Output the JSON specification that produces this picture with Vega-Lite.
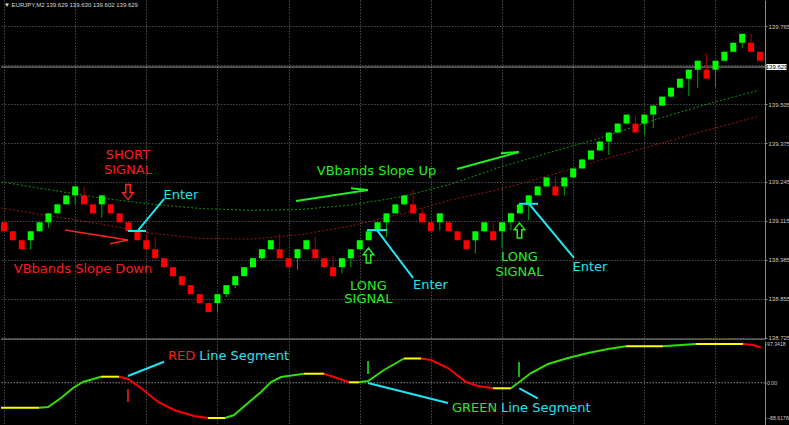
{
  "$schema": "https://vega.github.io/schema/vega-lite/v6.json",
  "background": "#000000",
  "padding": 0,
  "spacing": 2,
  "bounds": "flush",
  "config": {
    "view": {"stroke": null},
    "scale": {"continuousPadding": 0},
    "axis": {"labelFont": "Liberation Sans", "labelFontSize": 6, "labelColor": "#c8c8c8", "title": null, "domainColor": "#8c8c8c", "tickColor": "#8c8c8c", "gridColor": "#4a4a4a", "gridDash": [1.5, 1.5], "labelFlush": false, "labelOverlap": false, "minExtent": 0}
  },
  "datasets": {
    "bricks": [
      {"i":1,"o":139.110,"c":139.080,"h":139.110,"l":139.080,"d":"d"},
      {"i":2,"o":139.080,"c":139.050,"h":139.080,"l":139.050,"d":"d"},
      {"i":3,"o":139.050,"c":139.020,"h":139.050,"l":139.020,"d":"d"},
      {"i":4,"o":139.050,"c":139.080,"h":139.080,"l":139.020,"d":"u"},
      {"i":5,"o":139.080,"c":139.110,"h":139.110,"l":139.080,"d":"u"},
      {"i":6,"o":139.110,"c":139.140,"h":139.140,"l":139.092,"d":"u"},
      {"i":7,"o":139.140,"c":139.170,"h":139.170,"l":139.140,"d":"u"},
      {"i":8,"o":139.170,"c":139.200,"h":139.200,"l":139.170,"d":"u"},
      {"i":9,"o":139.200,"c":139.230,"h":139.230,"l":139.170,"d":"u"},
      {"i":10,"o":139.200,"c":139.170,"h":139.230,"l":139.170,"d":"d"},
      {"i":11,"o":139.170,"c":139.140,"h":139.170,"l":139.140,"d":"d"},
      {"i":12,"o":139.170,"c":139.200,"h":139.200,"l":139.125,"d":"u"},
      {"i":13,"o":139.170,"c":139.140,"h":139.170,"l":139.140,"d":"d"},
      {"i":14,"o":139.140,"c":139.110,"h":139.140,"l":139.110,"d":"d"},
      {"i":15,"o":139.110,"c":139.080,"h":139.110,"l":139.080,"d":"d"},
      {"i":16,"o":139.080,"c":139.050,"h":139.080,"l":139.050,"d":"d"},
      {"i":17,"o":139.050,"c":139.020,"h":139.070,"l":139.020,"d":"d"},
      {"i":18,"o":139.020,"c":138.990,"h":139.060,"l":138.990,"d":"d"},
      {"i":19,"o":138.990,"c":138.960,"h":138.990,"l":138.960,"d":"d"},
      {"i":20,"o":138.960,"c":138.930,"h":138.960,"l":138.930,"d":"d"},
      {"i":21,"o":138.930,"c":138.900,"h":138.930,"l":138.900,"d":"d"},
      {"i":22,"o":138.900,"c":138.870,"h":138.900,"l":138.870,"d":"d"},
      {"i":23,"o":138.870,"c":138.840,"h":138.870,"l":138.840,"d":"d"},
      {"i":24,"o":138.840,"c":138.810,"h":138.840,"l":138.810,"d":"d"},
      {"i":25,"o":138.840,"c":138.870,"h":138.870,"l":138.810,"d":"u"},
      {"i":26,"o":138.870,"c":138.900,"h":138.900,"l":138.860,"d":"u"},
      {"i":27,"o":138.900,"c":138.930,"h":138.930,"l":138.890,"d":"u"},
      {"i":28,"o":138.930,"c":138.960,"h":138.960,"l":138.930,"d":"u"},
      {"i":29,"o":138.960,"c":138.990,"h":138.990,"l":138.960,"d":"u"},
      {"i":30,"o":138.990,"c":139.020,"h":139.020,"l":138.983,"d":"u"},
      {"i":31,"o":139.020,"c":139.050,"h":139.050,"l":139.020,"d":"u"},
      {"i":32,"o":139.020,"c":138.990,"h":139.070,"l":138.990,"d":"d"},
      {"i":33,"o":138.990,"c":138.960,"h":138.990,"l":138.960,"d":"d"},
      {"i":34,"o":138.990,"c":139.020,"h":139.020,"l":138.951,"d":"u"},
      {"i":35,"o":139.020,"c":139.050,"h":139.050,"l":139.020,"d":"u"},
      {"i":36,"o":139.020,"c":138.990,"h":139.061,"l":138.990,"d":"d"},
      {"i":37,"o":138.990,"c":138.960,"h":138.990,"l":138.960,"d":"d"},
      {"i":38,"o":138.960,"c":138.930,"h":138.998,"l":138.930,"d":"d"},
      {"i":39,"o":138.960,"c":138.990,"h":138.990,"l":138.939,"d":"u"},
      {"i":40,"o":138.990,"c":139.020,"h":139.020,"l":138.960,"d":"u"},
      {"i":41,"o":139.020,"c":139.050,"h":139.050,"l":139.020,"d":"u"},
      {"i":42,"o":139.050,"c":139.080,"h":139.080,"l":139.050,"d":"u"},
      {"i":43,"o":139.080,"c":139.110,"h":139.110,"l":139.080,"d":"u"},
      {"i":44,"o":139.110,"c":139.140,"h":139.140,"l":139.061,"d":"u"},
      {"i":45,"o":139.140,"c":139.170,"h":139.170,"l":139.140,"d":"u"},
      {"i":46,"o":139.170,"c":139.200,"h":139.200,"l":139.170,"d":"u"},
      {"i":47,"o":139.170,"c":139.140,"h":139.217,"l":139.140,"d":"d"},
      {"i":48,"o":139.140,"c":139.110,"h":139.156,"l":139.110,"d":"d"},
      {"i":49,"o":139.110,"c":139.080,"h":139.110,"l":139.080,"d":"d"},
      {"i":50,"o":139.110,"c":139.140,"h":139.140,"l":139.083,"d":"u"},
      {"i":51,"o":139.110,"c":139.080,"h":139.110,"l":139.080,"d":"d"},
      {"i":52,"o":139.080,"c":139.050,"h":139.080,"l":139.050,"d":"d"},
      {"i":53,"o":139.050,"c":139.020,"h":139.050,"l":139.020,"d":"d"},
      {"i":54,"o":139.050,"c":139.080,"h":139.080,"l":139.005,"d":"u"},
      {"i":55,"o":139.080,"c":139.110,"h":139.110,"l":139.080,"d":"u"},
      {"i":56,"o":139.080,"c":139.050,"h":139.110,"l":139.050,"d":"d"},
      {"i":57,"o":139.080,"c":139.110,"h":139.110,"l":139.022,"d":"u"},
      {"i":58,"o":139.110,"c":139.140,"h":139.140,"l":139.083,"d":"u"},
      {"i":59,"o":139.140,"c":139.170,"h":139.170,"l":139.140,"d":"u"},
      {"i":60,"o":139.170,"c":139.200,"h":139.200,"l":139.117,"d":"u"},
      {"i":61,"o":139.200,"c":139.230,"h":139.230,"l":139.200,"d":"u"},
      {"i":62,"o":139.230,"c":139.260,"h":139.260,"l":139.230,"d":"u"},
      {"i":63,"o":139.230,"c":139.200,"h":139.260,"l":139.200,"d":"d"},
      {"i":64,"o":139.230,"c":139.260,"h":139.260,"l":139.200,"d":"u"},
      {"i":65,"o":139.260,"c":139.290,"h":139.290,"l":139.260,"d":"u"},
      {"i":66,"o":139.290,"c":139.320,"h":139.320,"l":139.290,"d":"u"},
      {"i":67,"o":139.320,"c":139.350,"h":139.350,"l":139.320,"d":"u"},
      {"i":68,"o":139.350,"c":139.380,"h":139.380,"l":139.350,"d":"u"},
      {"i":69,"o":139.380,"c":139.410,"h":139.410,"l":139.335,"d":"u"},
      {"i":70,"o":139.410,"c":139.440,"h":139.440,"l":139.410,"d":"u"},
      {"i":71,"o":139.440,"c":139.470,"h":139.470,"l":139.440,"d":"u"},
      {"i":72,"o":139.440,"c":139.410,"h":139.464,"l":139.410,"d":"d"},
      {"i":73,"o":139.440,"c":139.470,"h":139.470,"l":139.403,"d":"u"},
      {"i":74,"o":139.470,"c":139.500,"h":139.500,"l":139.425,"d":"u"},
      {"i":75,"o":139.500,"c":139.530,"h":139.530,"l":139.500,"d":"u"},
      {"i":76,"o":139.530,"c":139.560,"h":139.560,"l":139.530,"d":"u"},
      {"i":77,"o":139.560,"c":139.590,"h":139.590,"l":139.560,"d":"u"},
      {"i":78,"o":139.590,"c":139.620,"h":139.620,"l":139.532,"d":"u"},
      {"i":79,"o":139.620,"c":139.650,"h":139.650,"l":139.559,"d":"u"},
      {"i":80,"o":139.620,"c":139.590,"h":139.676,"l":139.590,"d":"d"},
      {"i":81,"o":139.620,"c":139.650,"h":139.650,"l":139.562,"d":"u"},
      {"i":82,"o":139.650,"c":139.680,"h":139.680,"l":139.650,"d":"u"},
      {"i":83,"o":139.680,"c":139.710,"h":139.710,"l":139.680,"d":"u"},
      {"i":84,"o":139.710,"c":139.740,"h":139.740,"l":139.693,"d":"u"},
      {"i":85,"o":139.710,"c":139.680,"h":139.740,"l":139.680,"d":"d"},
      {"i":86,"o":139.680,"c":139.650,"h":139.680,"l":139.650,"d":"d"}
    ],
    "bands": [
      {"i":0.66,"p":139.245,"b":"g"},{"i":6.28,"p":139.218,"b":"g"},{"i":11.91,"p":139.191,"b":"g"},{"i":17.53,"p":139.171,"b":"g"},
      {"i":23.15,"p":139.156,"b":"g"},{"i":28.77,"p":139.150,"b":"g"},{"i":34.39,"p":139.153,"b":"g"},{"i":40.02,"p":139.168,"b":"g"},
      {"i":45.64,"p":139.195,"b":"g"},{"i":51.26,"p":139.238,"b":"g"},{"i":56.88,"p":139.295,"b":"g"},{"i":62.50,"p":139.345,"b":"g"},
      {"i":68.12,"p":139.392,"b":"g"},{"i":73.75,"p":139.449,"b":"g"},{"i":79.37,"p":139.499,"b":"g"},{"i":85.89,"p":139.552,"b":"g"},
      {"i":0.66,"p":139.158,"b":"r"},{"i":6.28,"p":139.131,"b":"r"},{"i":11.91,"p":139.104,"b":"r"},{"i":17.53,"p":139.074,"b":"r"},
      {"i":23.15,"p":139.056,"b":"r"},{"i":28.77,"p":139.054,"b":"r"},{"i":34.39,"p":139.069,"b":"r"},{"i":40.02,"p":139.098,"b":"r"},
      {"i":45.64,"p":139.138,"b":"r"},{"i":51.26,"p":139.185,"b":"r"},{"i":56.88,"p":139.221,"b":"r"},{"i":62.50,"p":139.268,"b":"r"},
      {"i":68.12,"p":139.318,"b":"r"},{"i":73.75,"p":139.365,"b":"r"},{"i":79.37,"p":139.412,"b":"r"},{"i":85.89,"p":139.465,"b":"r"}
    ],
    "segs": [
      {"i":14.94,"p":139.081,"i2":16.97,"p2":139.081,"k":"c"},
      {"i":16.03,"p":139.081,"i2":19.0,"p2":139.188,"k":"c"},
      {"i":41.81,"p":139.084,"i2":44.06,"p2":139.084,"k":"c"},
      {"i":42.94,"p":139.084,"i2":46.99,"p2":138.924,"k":"c"},
      {"i":58.91,"p":139.172,"i2":61.04,"p2":139.172,"k":"c"},
      {"i":60.03,"p":139.172,"i2":65.09,"p2":138.991,"k":"c"},
      {"i":7.86,"p":139.084,"i2":14.94,"p2":139.051,"k":"r"},
      {"i":12.92,"p":139.038,"i2":14.94,"p2":139.051,"k":"r"},
      {"i":33.83,"p":139.181,"i2":41.93,"p2":139.218,"k":"g"},
      {"i":40.02,"p":139.224,"i2":41.93,"p2":139.218,"k":"g"},
      {"i":51.93,"p":139.288,"i2":58.91,"p2":139.345,"k":"g"},
      {"i":56.88,"p":139.341,"i2":58.91,"p2":139.345,"k":"g"}
    ],
    "notes": [
      {"i":14.94,"p":139.335,"t":"SHORT","k":"r"},
      {"i":14.94,"p":139.285,"t":"SIGNAL","k":"r"},
      {"i":9.88,"p":138.953,"t":"VBbands Slope Down","k":"r"},
      {"i":20.90,"p":139.201,"t":"Enter","k":"c"},
      {"i":48.95,"p":138.901,"t":"Enter","k":"c"},
      {"i":66.89,"p":138.961,"t":"Enter","k":"c"},
      {"i":42.88,"p":139.280,"t":"VBbands Slope Up","k":"g"},
      {"i":41.97,"p":138.897,"t":"LONG","k":"g"},
      {"i":41.97,"p":138.854,"t":"SIGNAL","k":"g"},
      {"i":58.96,"p":138.994,"t":"LONG","k":"g"},
      {"i":58.96,"p":138.945,"t":"SIGNAL","k":"g"}
    ],
    "arrows": [
      {"i":14.94,"p":139.211,"k":"dn"},
      {"i":41.98,"p":138.999,"k":"up"},
      {"i":58.96,"p":139.083,"k":"up"}
    ],
    "ind": [
      {"i":0.66,"v":-62.74,"s":1,"st":"f"},{"i":4.94,"v":-62.74,"s":1,"st":"f"},
      {"i":4.94,"v":-62.74,"s":2,"st":"u"},{"i":5.95,"v":-60.98,"s":2,"st":"u"},{"i":7.41,"v":-38.36,"s":2,"st":"u"},{"i":8.76,"v":-13.23,"s":2,"st":"u"},{"i":9.88,"v":1.85,"s":2,"st":"u"},{"i":11.91,"v":15.16,"s":2,"st":"u"},
      {"i":11.91,"v":15.16,"s":3,"st":"f"},{"i":13.93,"v":15.16,"s":3,"st":"f"},
      {"i":13.93,"v":15.16,"s":4,"st":"d"},{"i":14.94,"v":9.39,"s":4,"st":"d"},{"i":16.40,"v":-13.23,"s":4,"st":"d"},{"i":18.32,"v":-48.41,"s":4,"st":"d"},{"i":20.11,"v":-68.52,"s":4,"st":"d"},{"i":22.36,"v":-83.6,"s":4,"st":"d"},{"i":23.94,"v":-88.62,"s":4,"st":"d"},
      {"i":23.94,"v":-88.62,"s":5,"st":"f"},{"i":25.85,"v":-88.62,"s":5,"st":"f"},
      {"i":25.85,"v":-88.62,"s":6,"st":"u"},{"i":26.86,"v":-81.08,"s":6,"st":"u"},{"i":28.43,"v":-50.93,"s":6,"st":"u"},{"i":29.90,"v":-23.28,"s":6,"st":"u"},{"i":31.02,"v":1.85,"s":6,"st":"u"},{"i":32.14,"v":14.41,"s":6,"st":"u"},{"i":34.73,"v":22.70,"s":6,"st":"u"},
      {"i":34.73,"v":22.70,"s":7,"st":"f"},{"i":36.98,"v":22.70,"s":7,"st":"f"},
      {"i":36.98,"v":22.70,"s":8,"st":"d"},{"i":38.10,"v":14.41,"s":8,"st":"d"},{"i":39.79,"v":1.1,"s":8,"st":"d"},
      {"i":39.79,"v":1.1,"s":9,"st":"f"},{"i":40.92,"v":1.1,"s":9,"st":"f"},
      {"i":40.92,"v":1.1,"s":10,"st":"u"},{"i":41.93,"v":4.36,"s":10,"st":"u"},{"i":43.72,"v":31.99,"s":10,"st":"u"},{"i":45.97,"v":60.90,"s":10,"st":"u"},
      {"i":45.97,"v":60.90,"s":11,"st":"f"},{"i":47.89,"v":60.90,"s":11,"st":"f"},
      {"i":47.89,"v":60.90,"s":12,"st":"d"},{"i":49.01,"v":57.13,"s":12,"st":"d"},{"i":50.92,"v":37.03,"s":12,"st":"d"},{"i":52.95,"v":1.85,"s":12,"st":"d"},{"i":54.29,"v":-8.21,"s":12,"st":"d"},{"i":55.98,"v":-13.99,"s":12,"st":"d"},
      {"i":55.98,"v":-13.99,"s":13,"st":"f"},{"i":58.00,"v":-13.99,"s":13,"st":"f"},
      {"i":58.00,"v":-13.99,"s":14,"st":"u"},{"i":58.79,"v":-0.65,"s":14,"st":"u"},{"i":60.25,"v":24.46,"s":14,"st":"u"},{"i":62.17,"v":47.08,"s":14,"st":"u"},{"i":64.41,"v":62.16,"s":14,"st":"u"},{"i":66.66,"v":74.73,"s":14,"st":"u"},{"i":68.91,"v":84.78,"s":14,"st":"u"},{"i":70.94,"v":91.56,"s":14,"st":"u"},
      {"i":70.94,"v":91.56,"s":15,"st":"f"},{"i":75.09,"v":91.56,"s":15,"st":"f"},
      {"i":75.09,"v":91.56,"s":16,"st":"u"},{"i":78.81,"v":97.34,"s":16,"st":"u"},
      {"i":78.81,"v":97.34,"s":17,"st":"f"},{"i":84.09,"v":97.34,"s":17,"st":"f"},
      {"i":84.09,"v":97.34,"s":18,"st":"d"},{"i":85.22,"v":94.83,"s":18,"st":"d"},{"i":86.11,"v":88.54,"s":18,"st":"d"}
    ],
    "isegs": [
      {"i":14.94,"v":16.92,"i2":18.99,"v2":52.86,"k":"c"},
      {"i":41.93,"v":-0.65,"i2":50.92,"v2":-50.93,"k":"c"},
      {"i":58.94,"v":-13.99,"i2":61.01,"v2":-39.12,"k":"c"},
      {"i":14.94,"v":-15.75,"i2":14.94,"v2":-48.41,"k":"r"},
      {"i":41.93,"v":54.62,"i2":41.93,"v2":21.95,"k":"g"},
      {"i":58.91,"v":52.11,"i2":58.91,"v2":14.41,"k":"g"}
    ],
    "inotes": [
      {"i":19.44,"v":65.93,"t":"RED","k":"r"},
      {"i":22.96,"v":65.93,"t":"Line Segment","k":"c"},
      {"i":51.37,"v":-62.24,"t":"GREEN","k":"g"},
      {"i":56.88,"v":-62.24,"t":"Line Segment","k":"c"}
    ]
  },
  "vconcat": [
    {
      "width": 764,
      "height": 339,
      "layer": [
        {
          "data": {"name": "bands"},
          "transform": [{"filter": "datum.b == 'g'"}],
          "mark": {"type": "line", "color": "#0a9a0a", "strokeWidth": 1, "strokeDash": [2, 2], "clip": true},
          "encoding": {
            "x": {"field": "i", "type": "quantitative", "scale": {"domain": [0.663, 86.566], "nice": false, "zero": false, "padding": 0},
                  "axis": {"values": [1,3,5,7,9,11,13,15,17,19,21,23,25,27,29,31,33,35,37,39,41,43,45,47,49,51,53,55,57,59,61,63,65,67,69,71,73,75,77,79,81,83,85], "grid": true, "labels": false, "ticks": false, "domain": false, "orient": "bottom"}},
            "y": {"field": "p", "type": "quantitative", "scale": {"domain": [138.72, 139.853], "nice": false, "zero": false, "padding": 0},
                  "axis": {"orient": "right", "values": [138.725,138.79,138.855,138.92,138.985,139.05,139.115,139.18,139.245,139.31,139.375,139.44,139.505,139.57,139.635,139.7,139.765,139.83], "grid": true, "tickSize": 2, "labelPadding": 1, "domainWidth": 1, "labelExpr": "datum.value == 139.635 ? '' : format(datum.value, '.3f')"}}
          }
        },
        {
          "data": {"name": "bands"},
          "transform": [{"filter": "datum.b == 'r'"}],
          "mark": {"type": "line", "color": "#a01414", "strokeWidth": 1, "strokeDash": [2, 2], "clip": true},
          "encoding": {"x": {"field": "i", "type": "quantitative"}, "y": {"field": "p", "type": "quantitative"}}
        },
        {
          "data": {"values": [{"p": 139.629}, {"p": 138.7195}]},
          "mark": {"type": "rule", "color": "#9a9a9a", "strokeWidth": 1},
          "encoding": {"y": {"field": "p", "type": "quantitative"}, "strokeWidth": {"condition": {"test": "datum.p < 139", "value": 3}, "value": 1}, "color": {"condition": {"test": "datum.p < 139", "value": "#8a8a8a"}, "value": "#9a9a9a"}}
        },
        {
          "data": {"name": "bricks"},
          "transform": [{"filter": "datum.d == 'u'"}],
          "mark": {"type": "rule", "color": "#00a800", "strokeWidth": 1},
          "encoding": {"x": {"field": "i", "type": "quantitative"}, "y": {"field": "l", "type": "quantitative"}, "y2": {"field": "h"}}
        },
        {
          "data": {"name": "bricks"},
          "transform": [{"filter": "datum.d == 'd'"}],
          "mark": {"type": "rule", "color": "#a80000", "strokeWidth": 1},
          "encoding": {"x": {"field": "i", "type": "quantitative"}, "y": {"field": "l", "type": "quantitative"}, "y2": {"field": "h"}}
        },
        {
          "data": {"name": "bricks"},
          "transform": [{"filter": "datum.d == 'u'"}],
          "mark": {"type": "bar", "color": "#00ff00", "width": 6, "clip": true},
          "encoding": {"x": {"field": "i", "type": "quantitative"}, "y": {"field": "o", "type": "quantitative"}, "y2": {"field": "c"}}
        },
        {
          "data": {"name": "bricks"},
          "transform": [{"filter": "datum.d == 'd'"}],
          "mark": {"type": "bar", "color": "#ff0000", "width": 6, "clip": true},
          "encoding": {"x": {"field": "i", "type": "quantitative"}, "y": {"field": "o", "type": "quantitative"}, "y2": {"field": "c"}}
        },
        {
          "data": {"name": "segs"},
          "transform": [{"filter": "datum.k == 'c'"}],
          "mark": {"type": "rule", "color": "#22e3f0", "strokeWidth": 2},
          "encoding": {"x": {"field": "i", "type": "quantitative"}, "y": {"field": "p", "type": "quantitative"}, "x2": {"field": "i2"}, "y2": {"field": "p2"}}
        },
        {
          "data": {"name": "segs"},
          "transform": [{"filter": "datum.k == 'r'"}],
          "mark": {"type": "rule", "color": "#ff2020", "strokeWidth": 1.5},
          "encoding": {"x": {"field": "i", "type": "quantitative"}, "y": {"field": "p", "type": "quantitative"}, "x2": {"field": "i2"}, "y2": {"field": "p2"}}
        },
        {
          "data": {"name": "segs"},
          "transform": [{"filter": "datum.k == 'g'"}],
          "mark": {"type": "rule", "color": "#22ee22", "strokeWidth": 2},
          "encoding": {"x": {"field": "i", "type": "quantitative"}, "y": {"field": "p", "type": "quantitative"}, "x2": {"field": "i2"}, "y2": {"field": "p2"}}
        },
        {
          "data": {"name": "notes"},
          "transform": [{"filter": "datum.k == 'r'"}],
          "mark": {"type": "text", "color": "#ff1a1a", "font": "DejaVu Sans", "fontSize": 13, "align": "center", "baseline": "middle"},
          "encoding": {"x": {"field": "i", "type": "quantitative"}, "y": {"field": "p", "type": "quantitative"}, "text": {"field": "t"}}
        },
        {
          "data": {"name": "notes"},
          "transform": [{"filter": "datum.k == 'c'"}],
          "mark": {"type": "text", "color": "#22e3f0", "font": "DejaVu Sans", "fontSize": 13, "align": "center", "baseline": "middle"},
          "encoding": {"x": {"field": "i", "type": "quantitative"}, "y": {"field": "p", "type": "quantitative"}, "text": {"field": "t"}}
        },
        {
          "data": {"name": "notes"},
          "transform": [{"filter": "datum.k == 'g'"}],
          "mark": {"type": "text", "color": "#22ee22", "font": "DejaVu Sans", "fontSize": 13, "align": "center", "baseline": "middle"},
          "encoding": {"x": {"field": "i", "type": "quantitative"}, "y": {"field": "p", "type": "quantitative"}, "text": {"field": "t"}}
        },
        {
          "data": {"name": "arrows"},
          "transform": [{"filter": "datum.k == 'dn'"}],
          "mark": {"type": "point", "filled": false, "stroke": "#ff2020", "strokeWidth": 1.5, "opacity": 1, "size": 225, "shape": "M-0.3,-1L0.3,-1L0.3,0.1L0.7,0.1L0,1L-0.7,0.1L-0.3,0.1Z"},
          "encoding": {"x": {"field": "i", "type": "quantitative"}, "y": {"field": "p", "type": "quantitative"}}
        },
        {
          "data": {"name": "arrows"},
          "transform": [{"filter": "datum.k == 'up'"}],
          "mark": {"type": "point", "filled": false, "stroke": "#22ee22", "strokeWidth": 1.5, "opacity": 1, "size": 225, "shape": "M-0.3,1L0.3,1L0.3,-0.1L0.7,-0.1L0,-1L-0.7,-0.1L-0.3,-0.1Z"},
          "encoding": {"x": {"field": "i", "type": "quantitative"}, "y": {"field": "p", "type": "quantitative"}}
        },
        {
          "data": {"values": [{"i": 1.0, "p": 139.837, "t": "▼ EURJPY,M2  139.629 139.630 139.602 139.629"}]},
          "mark": {"type": "text", "color": "#d8d8d8", "font": "Liberation Sans", "fontSize": 6, "align": "left", "baseline": "middle"},
          "encoding": {"x": {"field": "i", "type": "quantitative"}, "y": {"field": "p", "type": "quantitative"}, "text": {"field": "t"}}
        },
        {
          "data": {"values": [{"i": 86.73, "i2": 89.0, "p": 139.639, "p2": 139.619}]},
          "mark": {"type": "rect", "color": "#ffffff"},
          "encoding": {"x": {"field": "i", "type": "quantitative"}, "x2": {"field": "i2"}, "y": {"field": "p", "type": "quantitative"}, "y2": {"field": "p2"}}
        },
        {
          "data": {"values": [{"i": 87.87, "p": 139.629, "t": "139.629"}]},
          "mark": {"type": "text", "color": "#000000", "font": "Liberation Sans", "fontSize": 6, "align": "center", "baseline": "middle"},
          "encoding": {"x": {"field": "i", "type": "quantitative"}, "y": {"field": "p", "type": "quantitative"}, "text": {"field": "t"}}
        }
      ]
    },
    {
      "width": 764,
      "height": 84,
      "layer": [
        {
          "data": {"values": [{"v": 0}]},
          "mark": {"type": "rule", "color": "#8a8a8a", "strokeWidth": 1, "strokeDash": [1.5, 1.5], "clip": true},
          "encoding": {"y": {"field": "v", "type": "quantitative", "scale": {"domain": [-106.21, 104.88], "nice": false, "zero": false, "padding": 0},
                  "axis": {"orient": "right", "values": [-88.6178, 0, 97.3418], "grid": false, "tickSize": 1, "labelPadding": 0.5, "labelFontSize": 5.2, "domainWidth": 1, "labelExpr": "datum.value == 0 ? '0.00' : format(datum.value, '.4f')"}}}
        },
        {
          "data": {"name": "ind"},
          "transform": [{"filter": "datum.st == 'f'"}],
          "mark": {"type": "line", "color": "#ffff00", "strokeWidth": 2, "clip": true},
          "encoding": {
            "x": {"field": "i", "type": "quantitative", "scale": {"domain": [0.663, 86.566], "nice": false, "zero": false, "padding": 0},
                  "axis": {"values": [1,3,5,7,9,11,13,15,17,19,21,23,25,27,29,31,33,35,37,39,41,43,45,47,49,51,53,55,57,59,61,63,65,67,69,71,73,75,77,79,81,83,85], "grid": true, "labels": false, "ticks": false, "domain": false}},
            "y": {"field": "v", "type": "quantitative"},
            "detail": {"field": "s"}
          }
        },
        {
          "data": {"name": "ind"},
          "transform": [{"filter": "datum.st == 'u'"}],
          "mark": {"type": "line", "color": "#33dd00", "strokeWidth": 2, "clip": true},
          "encoding": {"x": {"field": "i", "type": "quantitative"}, "y": {"field": "v", "type": "quantitative"}, "detail": {"field": "s"}}
        },
        {
          "data": {"name": "ind"},
          "transform": [{"filter": "datum.st == 'd'"}],
          "mark": {"type": "line", "color": "#ff0000", "strokeWidth": 2, "clip": true},
          "encoding": {"x": {"field": "i", "type": "quantitative"}, "y": {"field": "v", "type": "quantitative"}, "detail": {"field": "s"}}
        },
        {
          "data": {"name": "isegs"},
          "transform": [{"filter": "datum.k == 'c'"}],
          "mark": {"type": "rule", "color": "#22e3f0", "strokeWidth": 2},
          "encoding": {"x": {"field": "i", "type": "quantitative"}, "y": {"field": "v", "type": "quantitative"}, "x2": {"field": "i2"}, "y2": {"field": "v2"}}
        },
        {
          "data": {"name": "isegs"},
          "transform": [{"filter": "datum.k == 'r'"}],
          "mark": {"type": "rule", "color": "#ff2020", "strokeWidth": 1.5},
          "encoding": {"x": {"field": "i", "type": "quantitative"}, "y": {"field": "v", "type": "quantitative"}, "x2": {"field": "i2"}, "y2": {"field": "v2"}}
        },
        {
          "data": {"name": "isegs"},
          "transform": [{"filter": "datum.k == 'g'"}],
          "mark": {"type": "rule", "color": "#22ee22", "strokeWidth": 1.5},
          "encoding": {"x": {"field": "i", "type": "quantitative"}, "y": {"field": "v", "type": "quantitative"}, "x2": {"field": "i2"}, "y2": {"field": "v2"}}
        },
        {
          "data": {"name": "inotes"},
          "transform": [{"filter": "datum.k == 'r'"}],
          "mark": {"type": "text", "color": "#ff1a1a", "font": "DejaVu Sans", "fontSize": 13, "align": "left", "baseline": "middle"},
          "encoding": {"x": {"field": "i", "type": "quantitative"}, "y": {"field": "v", "type": "quantitative"}, "text": {"field": "t"}}
        },
        {
          "data": {"name": "inotes"},
          "transform": [{"filter": "datum.k == 'c'"}],
          "mark": {"type": "text", "color": "#22e3f0", "font": "DejaVu Sans", "fontSize": 13, "align": "left", "baseline": "middle"},
          "encoding": {"x": {"field": "i", "type": "quantitative"}, "y": {"field": "v", "type": "quantitative"}, "text": {"field": "t"}}
        },
        {
          "data": {"name": "inotes"},
          "transform": [{"filter": "datum.k == 'g'"}],
          "mark": {"type": "text", "color": "#22ee22", "font": "DejaVu Sans", "fontSize": 13, "align": "left", "baseline": "middle"},
          "encoding": {"x": {"field": "i", "type": "quantitative"}, "y": {"field": "v", "type": "quantitative"}, "text": {"field": "t"}}
        }
      ]
    }
  ]
}
